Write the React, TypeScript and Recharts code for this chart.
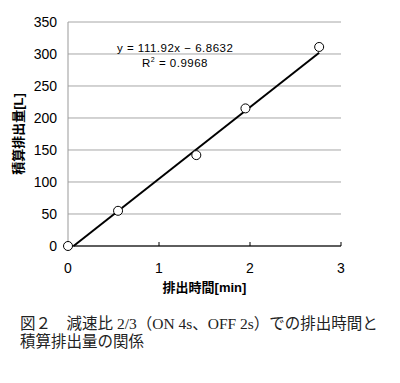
import React from 'react';
import { ComposedChart, Line, Scatter, XAxis, YAxis, CartesianGrid } from 'recharts';

// measured points (time [min], cumulative discharge [L])
const timeMin = [0, 0.55, 1.41, 1.95, 2.76];
const dischargeL = [0, 55, 142, 215, 311];

// regression shown on the chart
const slope = 111.92;
const intercept = -6.8632;
const trendRange = [0.0613, 2.76];

const xTicks = [0, 1, 2, 3];
const yTicks = [0, 50, 100, 150, 200, 250, 300, 350];

const points = timeMin.map((x, i) => ({ x, y: dischargeL[i] }));
const trend = trendRange.map((x) => ({ x, y: slope * x + intercept }));

const sans = '"Liberation Sans", Arial, "Noto Sans CJK JP", sans-serif';
const serif = '"Liberation Serif", "DejaVu Serif", "Noto Sans CJK JP", serif';

const OpenCircle = (props: any) => (
  <circle cx={props.cx} cy={props.cy} r={4.5} fill="#fff" stroke="#000" strokeWidth={1} />
);

export default function App() {
  return (
    <div style={{ position: 'absolute', left: 0, top: 0, width: 400, height: 383, background: '#fff' }}>
      <ComposedChart width={400} height={300} margin={{ top: 22, right: 59, bottom: 0, left: 0 }}>
        <CartesianGrid vertical={false} stroke="#a6a6a6" />
        <XAxis
          type="number"
          dataKey="x"
          domain={[0, 3]}
          ticks={xTicks}
          height={54}
          axisLine={{ stroke: '#000' }}
          tickLine={{ stroke: '#000' }}
          tickSize={-4}
          tickMargin={21}
          tick={{ fill: '#000', fontSize: 14, fontFamily: sans }}
          label={{
            value: '排出時間[min]',
            position: 'insideBottom',
            offset: 8,
            fill: '#000',
            fontSize: 13,
            fontWeight: 'bold',
            fontFamily: sans,
          }}
        />
        <YAxis
          type="number"
          dataKey="y"
          domain={[0, 350]}
          ticks={yTicks}
          width={68}
          axisLine={{ stroke: '#999' }}
          tickLine={false}
          tickSize={0}
          tickMargin={11}
          tick={{ fill: '#000', fontSize: 14, fontFamily: sans }}
          label={{
            value: '積算排出量[L]',
            angle: -90,
            position: 'insideLeft',
            offset: 18,
            style: { textAnchor: 'middle' },
            fill: '#000',
            fontSize: 13,
            fontWeight: 'bold',
            fontFamily: sans,
          }}
        />
        <Line data={trend} dataKey="y" stroke="#000" strokeWidth={2} dot={false} isAnimationActive={false} />
        <Scatter data={points} dataKey="y" shape={OpenCircle} isAnimationActive={false} />
      </ComposedChart>
      <svg width={400} height={300} style={{ position: 'absolute', left: 0, top: 0, pointerEvents: 'none' }}>
        <text x={117} y={52} fontSize={11.5} letterSpacing={0.5} fontFamily={sans} fill="#000">
          y = 111.92x − 6.8632
        </text>
        <text x={142} y={67} fontSize={11.5} letterSpacing={0.5} fontFamily={sans} fill="#000">
          R<tspan dy={-5} fontSize={7}>2</tspan>
          <tspan dy={5}> = 0.9968</tspan>
        </text>
      </svg>
      <div
        style={{
          position: 'absolute',
          left: 20,
          top: 315,
          width: 380,
          fontFamily: serif,
          fontSize: 15.5,
          lineHeight: '18px',
          color: '#222',
        }}
      >
        図２　減速比 2/3（ON 4s、OFF 2s）での排出時間と
        <br />
        積算排出量の関係
      </div>
    </div>
  );
}
